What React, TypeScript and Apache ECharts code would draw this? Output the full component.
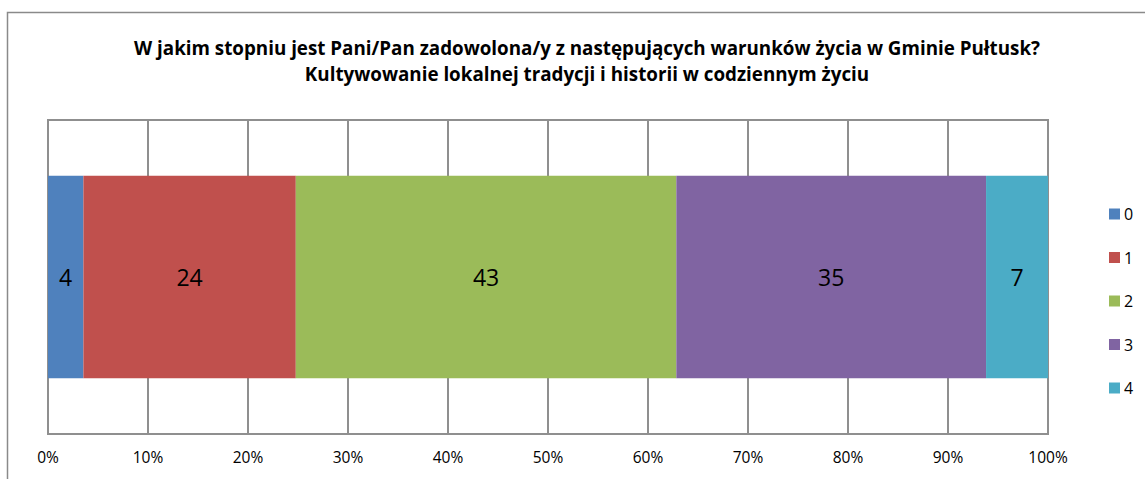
import React, { useEffect, useRef } from "react";
import * as echarts from "echarts";

const titleLines = [
  "W jakim stopniu jest Pani/Pan zadowolona/y z następujących warunków życia w Gminie Pułtusk?",
  "Kultywowanie lokalnej tradycji i historii w codziennym życiu",
];
const seriesNames = ["0", "1", "2", "3", "4"];
const seriesValues = [4, 24, 43, 35, 7];
const seriesColors = ["#4F81BD", "#C0504D", "#9BBB59", "#8064A2", "#4BACC6"];
const category = ["Kultywowanie"];

const FONT = "'Open Sans', 'Liberation Sans', sans-serif";

export default function App() {
  const ref = useRef<HTMLDivElement>(null);
  useEffect(() => {
    document.body.style.margin = "0";
    const chart = echarts.init(ref.current!, undefined, { renderer: "svg" });
    const total = seriesValues.reduce((a, b) => a + b, 0);
    const gridColor = "#8f8f8f";
    chart.setOption({
      animation: false,
      backgroundColor: "#ffffff",
      textStyle: { fontFamily: FONT },
      graphic: [
        {
          type: "rect",
          shape: { x: 7.5, y: 12.5, width: 1200, height: 600 },
          style: { fill: "none", stroke: "#8a8a8a", lineWidth: 1.5 },
          silent: true,
        },
        {
          type: "text",
          x: 587,
          y: 48,
          style: {
            text: titleLines[0],
            fontFamily: FONT,
            fontWeight: "bold",
            fontSize: 18.8,
            fill: "#000",
            textAlign: "center",
            textVerticalAlign: "middle",
          },
        },
        {
          type: "text",
          x: 587,
          y: 74,
          style: {
            text: titleLines[1],
            fontFamily: FONT,
            fontWeight: "bold",
            fontSize: 18.8,
            fill: "#000",
            textAlign: "center",
            textVerticalAlign: "middle",
          },
        },
      ],
      grid: {
        left: 48,
        right: 97,
        top: 120,
        bottom: 45,
        show: true,
        borderColor: gridColor,
        borderWidth: 2,
        containLabel: false,
      },
      legend: {
        orient: "vertical",
        left: 1104,
        top: 201,
        itemWidth: 11,
        itemHeight: 11,
        itemGap: 27.5,
        icon: "rect",
        data: seriesNames,
        textStyle: {
          fontSize: 16,
          lineHeight: 11,
          color: "#000",
          fontFamily: FONT,
          padding: [0, 0, 0, -1],
        },
      },
      xAxis: {
        type: "value",
        min: 0,
        max: 100,
        interval: 10,
        axisLine: { show: true, lineStyle: { color: gridColor, width: 2 } },
        axisTick: { show: false },
        splitLine: { show: true, lineStyle: { color: gridColor, width: 2 } },
        axisLabel: {
          formatter: "{value}%",
          fontSize: 15.5,
          color: "#000",
          margin: 15,
          fontFamily: FONT,
        },
      },
      yAxis: {
        type: "category",
        data: category,
        axisLine: { show: false },
        axisTick: { show: false },
        axisLabel: { show: false },
        splitLine: { show: false },
      },
      series: seriesNames.map((name, i) => ({
        name,
        type: "bar",
        stack: "total",
        barWidth: "64.5%",
        itemStyle: { color: seriesColors[i] },
        label: {
          show: true,
          position: "inside",
          formatter: () => String(seriesValues[i]),
          fontSize: 23,
          color: "#000",
          fontFamily: FONT,
        },
        data: [(seriesValues[i] / total) * 100],
      })),
    });
    return () => chart.dispose();
  }, []);
  return <div ref={ref} style={{ width: 1145, height: 479 }} />;
}
